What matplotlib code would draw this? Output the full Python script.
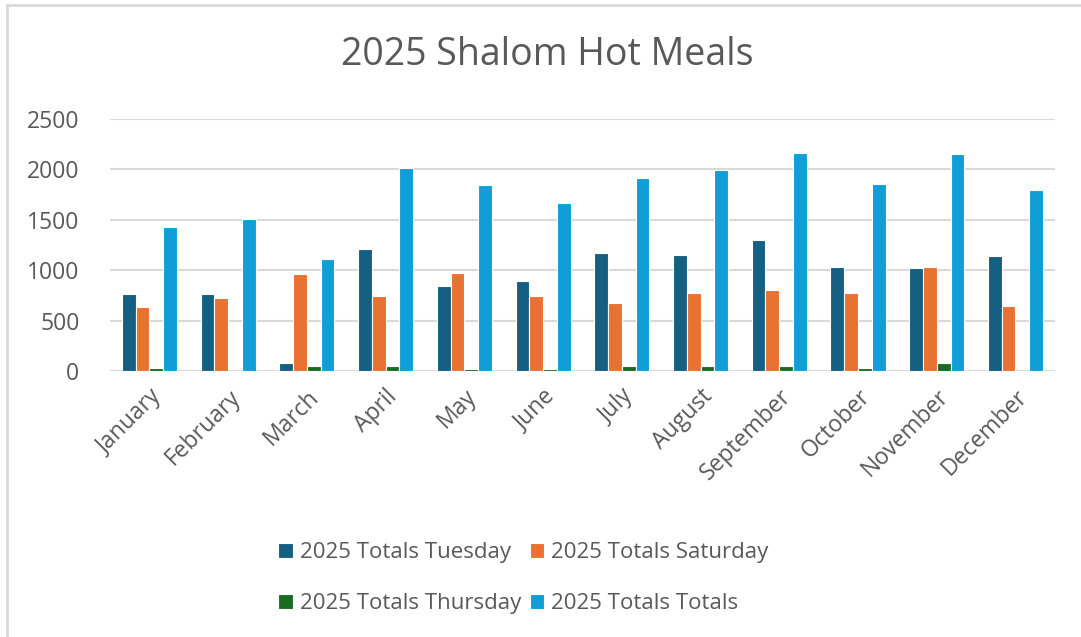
import numpy as np
import matplotlib.pyplot as plt
from matplotlib.lines import Line2D

plt.rcParams['font.family'] = ['Open Sans', 'DejaVu Sans']

months = ['January', 'February', 'March', 'April', 'May', 'June', 'July',
          'August', 'September', 'October', 'November', 'December']
tuesday = [759, 759, 80, 1209, 842, 888, 1166, 1150, 1296, 1034, 1017, 1137]
saturday = [636, 726, 961, 739, 977, 739, 679, 769, 799, 769, 1034, 649]
thursday = [33, 0, 50, 50, 23, 23, 50, 50, 50, 33, 80, 0]
totals = [1431, 1504, 1107, 2018, 1842, 1663, 1912, 1991, 2160, 1856, 2150, 1796]

series = [
    ('2025 Totals Tuesday', tuesday, '#156082'),
    ('2025 Totals Saturday', saturday, '#E97132'),
    ('2025 Totals Thursday', thursday, '#196B24'),
    ('2025 Totals Totals', totals, '#0F9ED5'),
]

txt = '#595959'
grid = '#d9d9d9'

fig = plt.figure(figsize=(10.81, 6.37), dpi=100)
ax = fig.add_axes([0.1018, 0.4176, 0.874, 0.3956])

x = np.arange(len(months))
w = 0.175
bars = []
for i, (name, vals, col) in enumerate(series):
    b = ax.bar(x + (i - 1.5) * w, vals, width=w, color=col, edgecolor='white',
               linewidth=0.8, label=name, zorder=3)
    bars.append(b)

ax.set_xlim(-0.5, 11.5)
ax.set_ylim(0, 2500)
ax.set_yticks(range(0, 2501, 500))
ax.yaxis.grid(True, color=grid, linewidth=1.5, zorder=0)
ax.set_axisbelow(True)
for s in ax.spines.values():
    s.set_visible(False)
ax.tick_params(axis='both', length=0, labelsize=16.5, labelcolor=txt)
ax.tick_params(axis='y', pad=22)
ax.set_xticks(x)
ax.set_xticklabels(months, rotation=45, ha='right', rotation_mode='anchor')
ax.tick_params(axis='x', pad=10)

fig.text(0.506, 0.914, '2025 Shalom Hot Meals', ha='center', va='center',
         fontsize=27, color=txt)

# legend fills row by row: Tuesday, Saturday / Thursday, Totals
order = [0, 2, 1, 3]
leg = fig.legend([bars[k] for k in order], [series[k][0] for k in order],
                 loc='center', bbox_to_anchor=(0.484, 0.092), ncol=2,
                 frameon=False, fontsize=16, labelcolor=txt,
                 handlelength=0.65, handleheight=0.65, handletextpad=0.3,
                 columnspacing=0.4, labelspacing=1.35)

# chart border (top and left visible)
fig.add_artist(Line2D([0.0065, 1.0], [0.992, 0.992], color=grid, linewidth=2,
                      transform=fig.transFigure))
fig.add_artist(Line2D([0.0065, 0.0065], [0.0, 0.992], color=grid, linewidth=2,
                      transform=fig.transFigure))

fig.savefig('out.png', dpi=100)
